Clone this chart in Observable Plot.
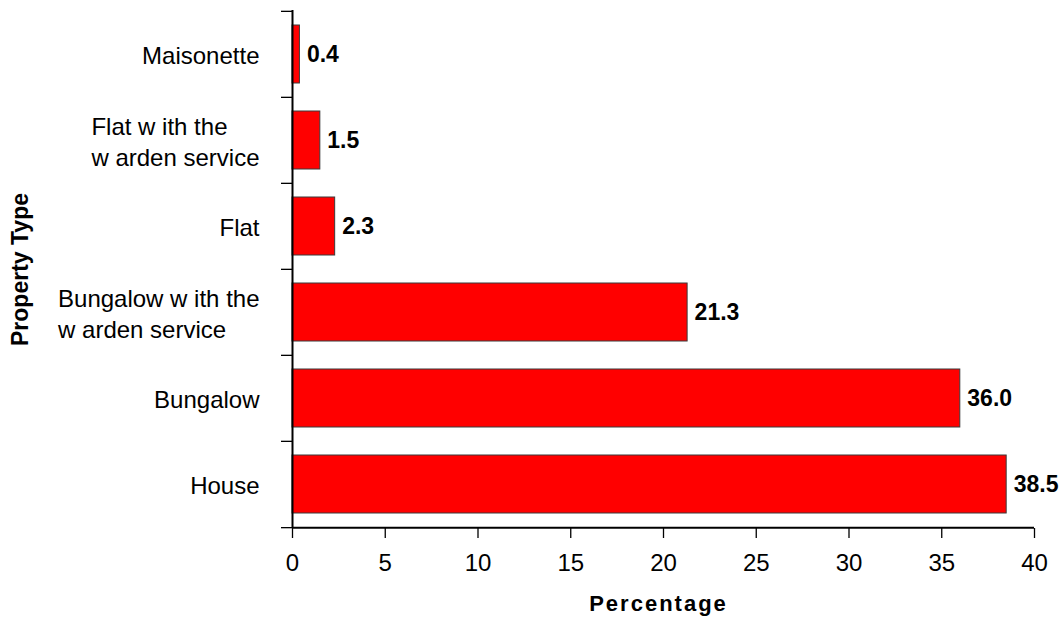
<!DOCTYPE html>
<html>
<head>
<meta charset="utf-8">
<script src="https://cdn.jsdelivr.net/npm/d3@7"></script>
<script src="https://cdn.jsdelivr.net/npm/@observablehq/plot@0.6"></script>
<style>
  html, body { margin: 0; padding: 0; background: #fff; }
  #chart { width: 1061px; height: 617px; }
</style>
</head>
<body>
<div id="chart"></div>
<script>
// ---- data ----
const categories = ["Maisonette", "Flat w ith the\nw arden service", "Flat", "Bungalow w ith the\nw arden service", "Bungalow", "House"];
const values = [0.4, 1.5, 2.3, 21.3, 36.0, 38.5];
const xTicks = [0, 5, 10, 15, 20, 25, 30, 35, 40];
const xLabel = "Percentage";
const yLabel = "Property Type";

const data = categories.map((c, i) => ({category: c, value: values[i]}));

const W = 1061, H = 617;
const mTop = 10, mBottom = 89, mLeft = 292, mRight = 27;
const frameW = W - mLeft - mRight;
const step = (H - mTop - mBottom) / categories.length;
const font = "'Liberation Sans', Arial, sans-serif";

// measure text widths for left-aligned multi-line label blocks
const ctx = document.createElement("canvas").getContext("2d");
ctx.font = "24px 'Liberation Sans', Arial, sans-serif";
const blockWidth = (s) => Math.max(...s.split("\n").map(l => ctx.measureText(l).width));
const labelGap = 33;

const labelMarks = categories.map(c =>
  Plot.text([c], {
    y: d => d, text: d => d, frameAnchor: "left", textAnchor: "start",
    dx: -(blockWidth(c) + labelGap), lineHeight: 1.3, fontSize: 24, fill: "black"
  })
);

const last = categories[categories.length - 1];

const plot = Plot.plot({
  width: W, height: H,
  marginTop: mTop, marginBottom: mBottom, marginLeft: mLeft, marginRight: mRight,
  style: {fontFamily: font, fontSize: "24px", color: "black", background: "white"},
  x: {domain: [0, 40], label: null, ticks: xTicks, tickSize: 10, tickPadding: 15, tickFormat: d => String(d)},
  y: {domain: categories, paddingInner: 0.33, paddingOuter: 0.165, label: null, axis: null},
  marks: [
    Plot.barX(data, {x: "value", y: "category", fill: "#ff0000", stroke: "#3a3a3a", strokeWidth: 1}),
    Plot.text(data, {x: "value", y: "category", text: d => d.value.toFixed(1), textAnchor: "start", dx: 7, fontWeight: "bold", fontSize: 23, fill: "black"}),
    ...labelMarks,
    // category boundary ticks on the left of the y axis
    Plot.tickY(categories, {y: d => d, dy: -step / 2, dx: -11, insetRight: frameW - 11, stroke: "black", strokeWidth: 1.3}),
    Plot.tickY([last], {y: d => d, dy: step / 2, dx: -11, insetRight: frameW - 11, stroke: "black", strokeWidth: 1.3}),
    // axis lines
    Plot.tickY([last], {y: d => d, dy: step / 2, stroke: "black", strokeWidth: 2}),
    Plot.ruleX([0], {stroke: "black", strokeWidth: 2}),
    Plot.text([xLabel], {text: d => d, frameAnchor: "bottom", textAnchor: "middle", lineAnchor: "middle", dy: 75, dx: -5, fontWeight: "bold", fontSize: 22, fill: "black"}),
    Plot.text([yLabel], {text: d => d, frameAnchor: "left", textAnchor: "middle", lineAnchor: "middle", dx: -272, rotate: -90, fontWeight: "bold", fontSize: 23, fill: "black"})
  ]
});

document.getElementById("chart").appendChild(plot);
// letter-spacing for the axis title as in the reference
d3.select(plot).selectAll("text").filter(function() { return this.textContent === xLabel; })
  .style("letter-spacing", "2px");
d3.select(plot).selectAll("g[aria-label='x-axis'] line, g[aria-label='x-axis tick'] path").attr("stroke-width", 1.3);
</script>
</body>
</html>
